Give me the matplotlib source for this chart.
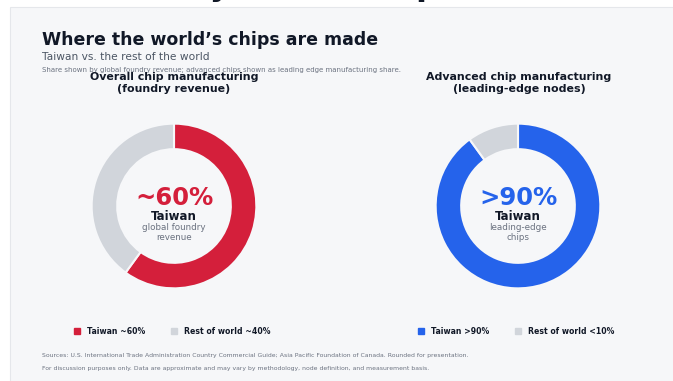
import matplotlib
matplotlib.use("Agg")
import matplotlib.pyplot as plt
import matplotlib.patches as mpatches

W, H = 673, 381

# data
overall_labels = ["Taiwan ~60%", "Rest of world ~40%"]
overall_share = [60, 40]
advanced_labels = ["Taiwan >90%", "Rest of world <10%"]
advanced_share = [90, 10]

RED = "#d41f3b"
BLUE = "#2563eb"
GREY = "#d1d5db"
DARK = "#111827"
MUTED = "#6b7280"
CARD = "#f6f7f9"

plt.rcParams["font.family"] = ["DejaVu Sans"]


def fx(x):
    return x / W


def fy(y):
    return 1 - y / H


def txt(x, y, s, **kw):
    fig.text(fx(x), fy(y), s, **kw)


def donut(cx, cy, r, values, colors):
    ax = fig.add_axes([fx(cx - r), fy(cy + r), 2 * r / W, 2 * r / H])
    ax.pie(values, colors=colors, startangle=90, counterclock=False,
           wedgeprops=dict(width=0.31, edgecolor=CARD, linewidth=1.5))
    ax.set_xlim(-1.02, 1.02)
    ax.set_ylim(-1.02, 1.02)
    ax.set_aspect("equal")
    ax.axis("off")
    return ax


fig = plt.figure(figsize=(W / 100, H / 100), dpi=100, facecolor="white")

# card background
card = mpatches.Rectangle((fx(10), 0), 1, fy(7), transform=fig.transFigure,
                          facecolor=CARD, edgecolor="#e5e7eb", linewidth=0.8,
                          zorder=-10)
fig.patches.append(card)

# heading cut off at the top of the screenshot
fig.text(fx(341.5), fy(-4), "Taiwan's key role in chip manufacture", ha="center",
         va="baseline", fontsize=22.5, fontweight="bold", color=DARK)

txt(42, 45, "Where the world\u2019s chips are made", fontsize=12.5,
    fontweight="bold", color=DARK, va="baseline")
txt(42, 60, "Taiwan vs. the rest of the world", fontsize=7.7, color="#4b5563",
    va="baseline")
txt(42, 72, "Share shown by global foundry revenue; advanced chips shown as "
    "leading edge manufacturing share.", fontsize=5.0, color=MUTED, va="baseline")

# chart titles
txt(174, 83, "Overall chip manufacturing\n(foundry revenue)", fontsize=7.9,
    fontweight="bold", color=DARK, ha="center", va="center", linespacing=1.2)
txt(519, 83, "Advanced chip manufacturing\n(leading-edge nodes)", fontsize=7.9,
    fontweight="bold", color=DARK, ha="center", va="center", linespacing=1.2)

donut(174, 206, 84, overall_share, [RED, GREY])
donut(518, 206, 84, advanced_share, [BLUE, GREY])

# center labels
txt(174, 205, "~60%", fontsize=17.5, fontweight="bold", color=RED, ha="center",
    va="baseline")
txt(174, 220, "Taiwan", fontsize=8.5, fontweight="bold", color=DARK,
    ha="center", va="baseline")
txt(174, 230, "global foundry", fontsize=6.3, color=MUTED, ha="center",
    va="baseline")
txt(174, 240, "revenue", fontsize=6.3, color=MUTED, ha="center", va="baseline")

txt(518, 205, ">90%", fontsize=17.5, fontweight="bold", color=BLUE, ha="center",
    va="baseline")
txt(518, 220, "Taiwan", fontsize=8.5, fontweight="bold", color=DARK,
    ha="center", va="baseline")
txt(518, 230, "leading-edge", fontsize=6.3, color=MUTED, ha="center",
    va="baseline")
txt(518, 240, "chips", fontsize=6.3, color=MUTED, ha="center", va="baseline")

# legends
for labels, colors, x0 in [(overall_labels, [RED, GREY], 70),
                           (advanced_labels, [BLUE, GREY], 414)]:
    handles = [mpatches.Patch(color=c, label=l) for c, l in zip(colors, labels)]
    leg = fig.legend(handles=handles, loc="center left", ncol=2, frameon=False,
                     bbox_to_anchor=(fx(x0), fy(331)), handlelength=0.75,
                     handleheight=0.75, handletextpad=0.9, columnspacing=3.4,
                     borderpad=0, prop=dict(size=5.6, weight="bold"))
    for t in leg.get_texts():
        t.set_color(DARK)

txt(42, 357, "Sources: U.S. International Trade Administration Country Commercial "
    "Guide; Asia Pacific Foundation of Canada. Rounded for presentation.",
    fontsize=4.4, color=MUTED, va="baseline")
txt(42, 370, "For discussion purposes only. Data are approximate and may vary by "
    "methodology, node definition, and measurement basis.",
    fontsize=4.4, color=MUTED, va="baseline")

fig.savefig("out.png", dpi=100, facecolor="white")
